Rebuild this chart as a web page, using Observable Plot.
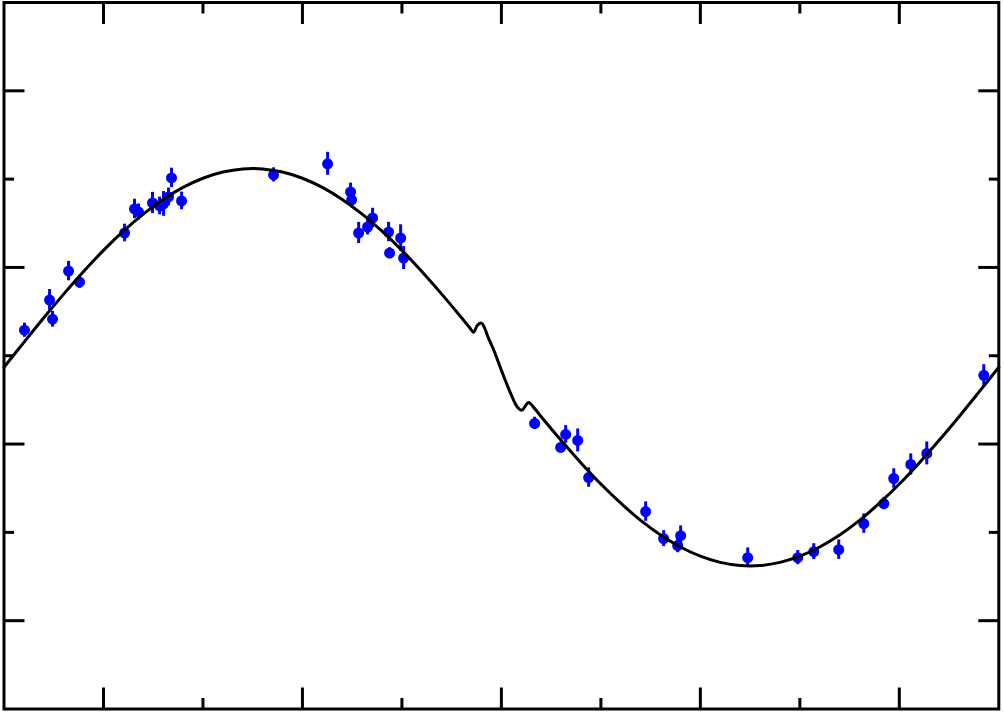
<!DOCTYPE html>
<html>
<head>
<meta charset="utf-8">
<script src="https://cdn.jsdelivr.net/npm/d3@7"></script>
<script src="https://cdn.jsdelivr.net/npm/@observablehq/plot@0.6"></script>
<style>
  html, body { margin: 0; padding: 0; background: #fff; }
  #chart svg { display: block; }
</style>
</head>
<body>
<div id="chart"></div>
<script>
// Observed radial velocities (phase, value, error)
const obsPhase = [0.0206, 0.0458, 0.0488, 0.0649, 0.0759, 0.1212, 0.1312, 0.1352, 0.1493, 0.1564,
  0.1604, 0.1654, 0.1684, 0.1785, 0.2710, 0.3253, 0.3484, 0.3494, 0.3565, 0.3655,
  0.3705, 0.3866, 0.3876, 0.3987, 0.4017, 0.5334, 0.5596, 0.5646, 0.5767, 0.5877,
  0.6450, 0.6631, 0.6772, 0.6802, 0.7476, 0.7979, 0.8140, 0.8391, 0.8643, 0.8844,
  0.8944, 0.9115, 0.9276, 0.9849];
const obsRV = [28.9, 63.0, 41.4, 95.9, 83.4, 139.0, 166.2, 162.8, 173.0, 169.6,
  171.9, 179.9, 201.4, 175.3, 204.8, 217.3, 185.5, 176.5, 139.0, 145.8,
  156.0, 140.1, 116.3, 133.3, 110.6, -76.6, -103.8, -89.1, -95.9, -137.9,
  -176.5, -207.1, -215.0, -203.7, -228.6, -228.6, -221.8, -219.6, -190.1, -167.4,
  -139.0, -123.1, -110.6, -22.1];
const obsErr = [8, 12, 9, 11, 7, 10, 11, 9, 12, 10,
  14, 10, 11, 10, 8, 13, 10, 9, 12, 9,
  11, 11, 6, 15, 13, 7, 6, 10, 13, 11,
  11, 9, 8, 11, 11, 8, 9, 11, 11, 7,
  11, 12, 13, 12];

// Model curve (phase, value)
const modelPhase = [0.00, 0.02, 0.04, 0.06, 0.08, 0.10, 0.12, 0.14, 0.16, 0.18,
  0.20, 0.22, 0.24, 0.26, 0.28, 0.30, 0.32, 0.34, 0.36, 0.38,
  0.40, 0.42, 0.44, 0.46, 0.4623, 0.468, 0.472, 0.476, 0.480, 0.4832,
  0.4862, 0.4902, 0.4932, 0.4962, 0.4992, 0.5023, 0.5063, 0.5093, 0.5133, 0.5163,
  0.5204, 0.5244, 0.5274, 0.532,
  0.54, 0.56, 0.58, 0.60, 0.62, 0.64, 0.66, 0.68, 0.70, 0.72,
  0.74, 0.76, 0.78, 0.80, 0.82, 0.84, 0.86, 0.88, 0.90, 0.92,
  0.94, 0.96, 0.98, 1.00];
const modelRV = [-13.0, 15.2, 43.0, 69.8, 95.4, 119.3, 141.0, 160.4, 177.0, 190.6,
  201.0, 208.0, 211.6, 211.6, 208.0, 201.0, 190.6, 177.0, 160.4, 141.0,
  119.3, 95.4, 69.8, 43.0, 39.8, 32.0, 26.7, 34.6, 36.9, 31.2,
  22.1, 11.9, 4.0, -5.1, -14.2, -23.3, -34.6, -42.6, -52.8, -58.4,
  -61.8, -56.2, -52.8, -57.9,
  -69.0, -95.8, -121.4, -145.3, -167.0, -186.4, -203.0, -216.6, -227.0, -234.0,
  -237.6, -237.6, -234.0, -227.0, -216.6, -203.0, -186.4, -167.0, -145.3, -121.4,
  -95.8, -69.0, -41.2, -13.0];

// Tick positions
const xMajor = [0.1, 0.3, 0.5, 0.7, 0.9];
const xMinor = [0.2, 0.4, 0.6, 0.8];
const yMajor = [-300, -100, 100, 300];
const yMinor = [-200, 0, 200];

const obs = obsPhase.map((p, i) => ({phase: p, rv: obsRV[i], lo: obsRV[i] - obsErr[i], hi: obsRV[i] + obsErr[i]}));
const model = modelPhase.map((p, i) => ({phase: p, rv: modelRV[i]}));

const blue = "#0000ff";
const noLabel = () => "";
const tickStyle = {stroke: "#000", strokeWidth: 3, tickFormat: noLabel, label: null};

const chart = Plot.plot({
  width: 1004,
  height: 712,
  marginLeft: 3.5,
  marginRight: 5.7,
  marginTop: 2,
  marginBottom: 3.5,
  x: {domain: [0, 1], axis: null},
  y: {domain: [-400, 400], axis: null},
  marks: [
    Plot.ruleX(obs, {x: "phase", y1: "lo", y2: "hi", stroke: blue, strokeWidth: 3}),
    Plot.dot(obs, {x: "phase", y: "rv", r: 5.5, fill: blue, stroke: null}),
    Plot.line(model, {x: "phase", y: "rv", curve: "catmull-rom", stroke: "#000", strokeWidth: 3}),
    Plot.axisX(xMajor, {anchor: "bottom", tickSize: -21, ...tickStyle}),
    Plot.axisX(xMinor, {anchor: "bottom", tickSize: -10.5, ...tickStyle}),
    Plot.axisX(xMajor, {anchor: "top", tickSize: -21, ...tickStyle}),
    Plot.axisX(xMinor, {anchor: "top", tickSize: -10.5, ...tickStyle}),
    Plot.axisY(yMajor, {anchor: "left", tickSize: -21, ...tickStyle}),
    Plot.axisY(yMinor, {anchor: "left", tickSize: -10.5, ...tickStyle}),
    Plot.axisY(yMajor, {anchor: "right", tickSize: -21, ...tickStyle}),
    Plot.axisY(yMinor, {anchor: "right", tickSize: -10.5, ...tickStyle}),
    Plot.frame({stroke: "#000", strokeWidth: 3})
  ]
});
document.getElementById("chart").appendChild(chart);
</script>
</body>
</html>
